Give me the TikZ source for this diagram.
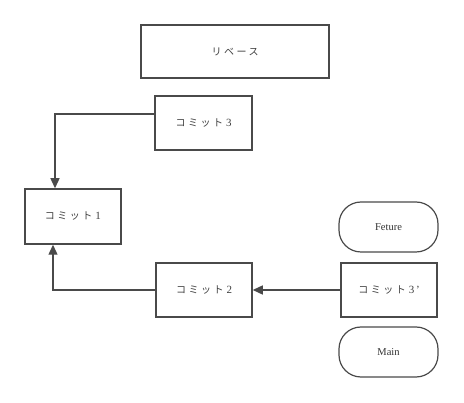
\documentclass[tikz,border=0pt]{standalone}
\usepackage{fontspec}
\setmainfont{Liberation Serif}
\newfontfamily\jpfont[LetterSpace=25]{Noto Sans CJK JP}
\newcommand{\dg}[1]{\hspace{3pt}{\rmfamily\fontsize{11}{12}\selectfont #1}}
\usetikzlibrary{arrows.meta}
\definecolor{lc}{HTML}{4A4A4A}
\tikzset{
  box/.style={draw=lc, line width=1.5pt, fill=white, inner sep=0pt},
  pill/.style={draw=lc, line width=1.2pt, fill=white, rounded corners=22pt, inner sep=0pt},
  conn/.style={draw=lc, line width=1.3pt, -{Triangle[length=10pt,width=9pt]}},
  jp/.style={font=\jpfont\fontsize{10}{12}\selectfont, text=black!75},
  lat/.style={font=\fontsize{10.5}{12}\selectfont, text=black!80}
}
\begin{document}
\begin{tikzpicture}[x=1pt,y=-1pt]
\useasboundingbox (0,0) rectangle (464,403);
\node[box, minimum width=188pt, minimum height=53pt, jp] (rebase) at (235,51.5) {リベース};
\node[box, minimum width=97pt, minimum height=54pt, jp] (c3) at (203.5,123) {コミット\dg{3}};
\node[box, minimum width=96pt, minimum height=55pt, jp] (c1) at (73,216.5) {コミット\dg{1}};
\node[box, minimum width=96pt, minimum height=54pt, jp] (c2) at (204,290) {コミット\dg{2}};
\node[box, minimum width=96pt, minimum height=54pt, jp] (c3p) at (389,290) {コミット\dg{3\,\char"0027}};
\node[pill, minimum width=99pt, minimum height=50pt, lat] (fe) at (388.5,227) {Feture};
\node[pill, minimum width=99pt, minimum height=50pt, lat] (main) at (388.5,352) {Main};
\coordinate (k1) at (55,114);
\coordinate (k2) at (53,290);
\draw[conn] (c3.west |- k1) -- (k1) -- (k1 |- c1.north);
\draw[conn] (c3p.west) -- (c2.east);
\draw[conn] (c2.west) -- (k2) -- (k2 |- c1.south);
\end{tikzpicture}
\end{document}
